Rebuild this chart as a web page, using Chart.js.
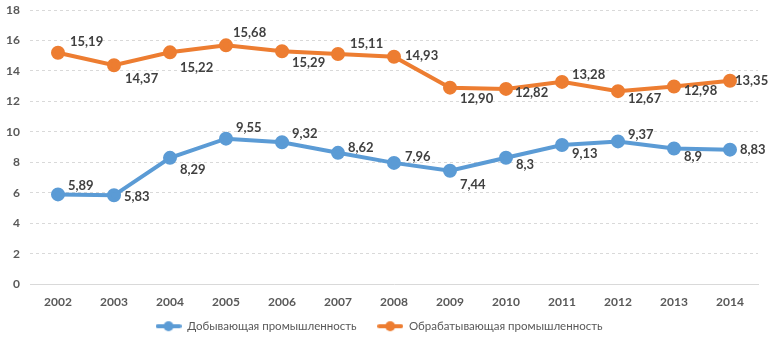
<!DOCTYPE html>
<html>
<head>
<meta charset="utf-8">
<script src="https://cdn.jsdelivr.net/npm/chart.js@4"></script>
<style>
html,body{margin:0;padding:0;background:#fff;}
#wrap{width:769px;height:342px;position:relative;}
</style>
</head>
<body>
<div id="wrap"><canvas id="c" width="769" height="342"></canvas></div>
<script>
const years = ['2002','2003','2004','2005','2006','2007','2008','2009','2010','2011','2012','2013','2014'];
const mining = [5.89, 5.83, 8.29, 9.55, 9.32, 8.62, 7.96, 7.44, 8.3, 9.13, 9.37, 8.9, 8.83];
const manufacturing = [15.19, 14.37, 15.22, 15.68, 15.29, 15.11, 14.93, 12.90, 12.82, 13.28, 12.67, 12.98, 13.35];
const miningLabels = ['5,89','5,83','8,29','9,55','9,32','8,62','7,96','7,44','8,3','9,13','9,37','8,9','8,83'];
const manufLabels = ['15,19','14,37','15,22','15,68','15,29','15,11','14,93','12,90','12,82','13,28','12,67','12,98','13,35'];
const yTicks = [0,2,4,6,8,10,12,14,16,18];

const BLUE = '#5b9bd5', ORANGE = '#ed7d31';
const FONT = 'Lato, "Liberation Sans", sans-serif';

function legendIcon(color){
  const c = document.createElement('canvas');
  c.width = 26; c.height = 12;
  const g = c.getContext('2d');
  g.strokeStyle = color; g.lineWidth = 4; g.lineCap = 'round';
  g.beginPath(); g.moveTo(2,6); g.lineTo(24,6); g.stroke();
  g.fillStyle = color; g.beginPath(); g.arc(13,6,5,0,Math.PI*2); g.fill();
  return c;
}

// label placement per point: [dx, dy] relative to point (style only)
const placeManuf = [[12,-11],[11,14],[10,15],[7,-13],[10,12],[12,-10],[11,-1],[10,11],[9,4],[10,-7],[10,8],[10,4],[5,0]];
const placeMining = [[10,-9],[10,1],[10,12],[10,-11],[10,-8],[10,-5],[11,-6],[10,14],[10,7],[10,9],[10,-7],[10,8],[10,0]];

const labelPlugin = {
  id: 'pointLabels',
  afterDatasetsDraw(chart){
    const ctx = chart.ctx;
    const sets = [[0, miningLabels, placeMining],[1, manufLabels, placeManuf]];
    ctx.save();
    ctx.font = 'bold 13px ' + FONT;
    ctx.fillStyle = '#404040';
    ctx.textAlign = 'left';
    ctx.textBaseline = 'middle';
    for (const [di, labels, place] of sets){
      const meta = chart.getDatasetMeta(di);
      meta.data.forEach((pt, i) => {
        ctx.fillText(labels[i], pt.x + place[i][0], pt.y + place[i][1]);
      });
    }
    ctx.restore();
  }
};

new Chart(document.getElementById('c'), {
  type: 'line',
  data: {
    labels: years,
    datasets: [
      {label: 'Добывающая промышленность', data: mining, borderColor: BLUE, backgroundColor: BLUE,
       borderWidth: 4, pointRadius: 5, pointBackgroundColor: BLUE, pointBorderColor: BLUE, pointStyle: 'circle', tension: 0},
      {label: 'Обрабатывающая промышленность', data: manufacturing, borderColor: ORANGE, backgroundColor: ORANGE,
       borderWidth: 4, pointRadius: 5, pointBackgroundColor: ORANGE, pointBorderColor: ORANGE, pointStyle: 'circle', tension: 0}
    ]
  },
  options: {
    responsive: false,
    animation: false,
    layout: {padding: {left: 0, right: 11, top: 10, bottom: 0}},
    scales: {
      x: {
        offset: true,
        grid: {display: false, drawTicks: false},
        border: {display: true, color: '#d9d9d9', width: 1},
        ticks: {color: '#595959', font: {family: FONT, size: 12, weight: 'bold'}, padding: 11}
      },
      y: {
        min: 0, max: 18,
        afterBuildTicks(axis){ axis.ticks = yTicks.map(v => ({value: v})); },
        afterFit(axis){ axis.width = 30; axis.paddingTop = 0; axis.paddingBottom = 0; },
        grid: {color: '#d9d9d9', drawTicks: false, lineWidth: 1},
        border: {display: true, color: 'rgba(0,0,0,0)', width: 0, dash: [3,3]},
        ticks: {color: '#595959', font: {family: FONT, size: 12, weight: 'bold'}, padding: 10}
      }
    },
    plugins: {
      legend: {
        position: 'bottom',
        labels: {
          color: '#595959',
          font: {family: FONT, size: 11.5},
          usePointStyle: true,
          pointStyleWidth: 26,
          padding: 0,
          generateLabels(chart){
            return chart.data.datasets.map((d, i) => ({
              text: d.label + (i === 0 ? '\u00a0\u00a0\u00a0\u00a0\u00a0\u00a0\u00a0' : ''),
              pointStyle: legendIcon(d.borderColor), fillStyle: d.borderColor,
              strokeStyle: d.borderColor, lineWidth: 0, hidden: false, datasetIndex: i, fontColor: '#595959'
            }));
          }
        }
      },
      tooltip: {enabled: false}
    }
  },
  plugins: [labelPlugin]
});
</script>
</body>
</html>
